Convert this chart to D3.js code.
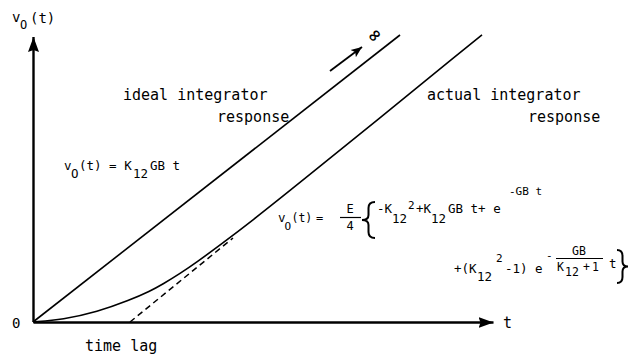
<!DOCTYPE html>
<html>
<head>
<meta charset="utf-8">
<script src="https://cdn.jsdelivr.net/npm/d3@7/dist/d3.min.js"></script>
<style>
  html, body { margin: 0; padding: 0; background: #fff; }
  svg { display: block; }
  text { font-family: "DejaVu Sans Mono", "Liberation Mono", monospace; fill: #000; }
</style>
</head>
<body>
<svg id="chart" width="631" height="359"></svg>
<script>
// Ideal integrator: straight ramp from the origin
const idealT = [0, 9.175];
const idealV = [0, 7.175];

// Actual integrator: starts flat, bends up, then settles onto a parallel ramp
const actualT = [0, 0.75, 1.6, 2.425, 2.925, 3.25, 3.675, 4.1, 4.725, 5.425, 6.675, 11.225];
const actualV = [0, 0.0625, 0.25, 0.55, 0.77, 0.95, 1.21, 1.5, 1.96, 2.49, 3.48, 7.18];

// Asymptote of the actual response, extended back to the time axis (time lag)
const lagT = [2.425, 5.0];
const lagV = [0, 2.1];

const svg = d3.select("#chart");

const x = d3.scaleLinear().domain([0, 11.5]).range([33, 493]);
const y = d3.scaleLinear().domain([0, 7.125]).range([322, 37]);

// arrowheads
const defs = svg.append("defs");
defs.append("marker")
  .attr("id", "axisArrow")
  .attr("markerUnits", "userSpaceOnUse")
  .attr("markerWidth", 16).attr("markerHeight", 12)
  .attr("viewBox", "0 0 16 12")
  .attr("refX", 15).attr("refY", 6)
  .attr("orient", "auto")
  .append("path").attr("d", "M0,0.5 L15,6 L0,11.5 L2,6 Z").attr("fill", "#000");
defs.append("marker")
  .attr("id", "smallArrow")
  .attr("markerUnits", "userSpaceOnUse")
  .attr("markerWidth", 12).attr("markerHeight", 10)
  .attr("viewBox", "0 0 12 10")
  .attr("refX", 11).attr("refY", 5)
  .attr("orient", "auto")
  .append("path").attr("d", "M0,0.5 L11,5 L0,9.5 L2.5,5 Z").attr("fill", "#000");

// axes (no ticks, only arrows)
const xAxis = svg.append("g")
  .attr("transform", `translate(0,${y(0)})`)
  .call(d3.axisBottom(x).tickValues([]).tickSizeOuter(0));
xAxis.select(".domain")
  .attr("stroke", "#000").attr("stroke-width", 2.4)
  .attr("marker-end", "url(#axisArrow)");

const yAxis = svg.append("g")
  .attr("transform", `translate(${x(0)},0)`)
  .call(d3.axisLeft(y).tickValues([]).tickSizeOuter(0));
yAxis.select(".domain")
  .attr("stroke", "#000").attr("stroke-width", 2.4)
  .attr("d", `M0.5,${y(0)}V${y.range()[1]}`)
  .attr("marker-end", "url(#axisArrow)");

const line = d3.line().x(d => x(d[0])).y(d => y(d[1]));

// dashed asymptote
svg.append("path")
  .datum(d3.zip(lagT, lagV))
  .attr("d", line)
  .attr("fill", "none").attr("stroke", "#000")
  .attr("stroke-width", 1.5).attr("stroke-dasharray", "6,4");

// ideal response
svg.append("path")
  .datum(d3.zip(idealT, idealV))
  .attr("d", line)
  .attr("fill", "none").attr("stroke", "#000").attr("stroke-width", 1.6);

// actual response
svg.append("path")
  .datum(d3.zip(actualT, actualV))
  .attr("d", d3.line().x(d => x(d[0])).y(d => y(d[1])).curve(d3.curveBasis))
  .attr("fill", "none").attr("stroke", "#000").attr("stroke-width", 1.6);

// arrow towards infinity along the ideal ramp
svg.append("line")
  .attr("x1", 330).attr("y1", 71).attr("x2", 362).attr("y2", 47)
  .attr("stroke", "#000").attr("stroke-width", 1.8)
  .attr("marker-end", "url(#smallArrow)");
svg.append("text")
  .attr("transform", "translate(374,35) rotate(-45)")
  .attr("text-anchor", "middle").attr("dominant-baseline", "central")
  .style("font-family", "DejaVu Sans").style("font-size", "17px").style("font-weight", "bold")
  .text("∞");

// helper for positioned text runs
function txt(s, px, py, size, opts = {}) {
  const t = svg.append("text")
    .attr("x", px).attr("y", py)
    .style("font-size", size + "px")
    .text(s);
  if (opts.anchor) t.attr("text-anchor", opts.anchor);
  if (opts.spacing) t.style("letter-spacing", opts.spacing + "px");
  return t;
}

// curly brace drawn as a path: xe = open ends, xt = tip
function brace(xe, xt, y0, y1) {
  const yc = (y0 + y1) / 2;
  const xm = (xe + xt) / 2;
  const r = 6;
  const p = `M${xe},${y0} Q${xm},${y0} ${xm},${y0 + r} L${xm},${yc - 5} ` +
            `Q${xm},${yc} ${xt},${yc} Q${xm},${yc} ${xm},${yc + 5} ` +
            `L${xm},${y1 - r} Q${xm},${y1} ${xe},${y1}`;
  svg.append("path").attr("d", p).attr("fill", "none")
    .attr("stroke", "#000").attr("stroke-width", 2);
}

// axis labels
txt("v", 12, 22, 14);
txt("O", 20, 29, 12);
txt("(t)", 30, 23, 14);
txt("0", 12, 328, 14);
txt("t", 503, 328, 15);
txt("time lag", 85, 351, 15);

// curve labels
txt("ideal integrator", 123, 100, 15);
txt("response", 217, 122, 15);
txt("actual integrator", 427, 100, 15);
txt("response", 528, 122, 15);

// ideal formula: vo(t) = K12 GB t
txt("v", 64, 170, 12.5);
txt("O", 71, 178, 12.5);
txt("(t) = K", 79, 170, 12.5);
txt("12", 133, 178, 12.5);
txt("GB t", 150, 170, 12.5);

// actual formula, left part
txt("v", 278, 222, 12.5);
txt("O", 284.5, 230, 11);
txt("(t)", 291.5, 222, 11.5);
txt("=", 316, 222, 12);
txt("E", 350, 213, 12, { anchor: "middle" });
svg.append("line").attr("x1", 340).attr("x2", 361).attr("y1", 217.5).attr("y2", 217.5)
  .attr("stroke", "#000").attr("stroke-width", 1.2);
txt("4", 350, 230, 12, { anchor: "middle" });
brace(375, 362, 202, 238);

// first row inside the brace
txt("-K", 377, 213, 12.5);
txt("12", 392, 223, 12.5);
txt("2", 408, 209, 11);
txt("+K", 416, 213, 12.5);
txt("12", 431, 223, 12.5);
txt("GB t+ e", 448, 213, 12.5);
txt("-GB t", 509, 195, 11);

// second row
txt("+(K", 454, 273, 12.5);
txt("12", 477, 281, 12.5);
txt("2", 496, 262, 11);
txt("-1) e", 505, 273, 12.5);
txt("-", 546, 259, 11);
txt("GB", 579, 255, 11.5, { anchor: "middle" });
svg.append("line").attr("x1", 556).attr("x2", 603).attr("y1", 258.5).attr("y2", 258.5)
  .attr("stroke", "#000").attr("stroke-width", 1.2);
txt("K", 557, 271, 11.5);
txt("12", 565, 276, 11.5);
txt("+1", 583, 271, 11.5, { spacing: 2 });
txt("t", 609, 268, 12.5);
brace(617, 628, 250, 283);
</script>
</body>
</html>
